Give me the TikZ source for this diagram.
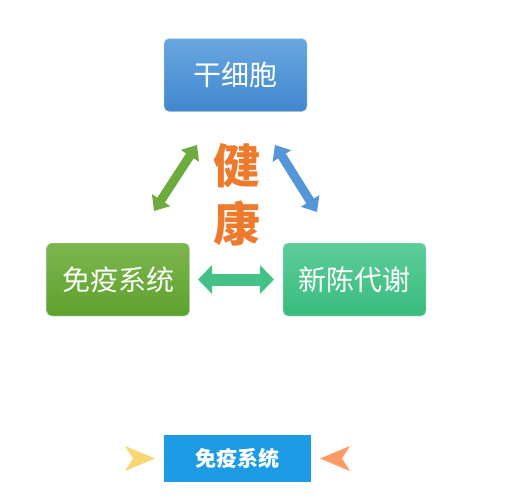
\documentclass[tikz,border=0pt]{standalone}
\usepackage{fontspec}
\newfontfamily\cjk{Noto Sans CJK SC}
\usetikzlibrary{arrows.meta}
\definecolor{blueT}{HTML}{68A6E0}
\definecolor{blueB}{HTML}{4187CF}
\definecolor{greenT}{HTML}{7DB64E}
\definecolor{greenB}{HTML}{5EA12E}
\definecolor{tealT}{HTML}{5CCD99}
\definecolor{tealB}{HTML}{39BC7E}
\definecolor{orangeT}{HTML}{EE7A2E}
\definecolor{boxblue}{HTML}{1E9BE5}
\definecolor{dartY}{HTML}{F6D774}
\definecolor{dartO}{HTML}{FF9966}
\tikzset{
  card/.style={rounded corners=5pt, minimum width=143pt, minimum height=73pt,
    text=white, font=\cjk\fontsize{28}{32}\selectfont, draw=white!85!black, line width=0.4pt},
  dbl/.style={line width=9pt, {Triangle[width=21pt,length=13pt]}-{Triangle[width=21pt,length=13pt]}},
}
\begin{document}
\begin{tikzpicture}[x=1pt,y=-1pt]
\useasboundingbox (0,0) rectangle (508,501);
\fill[white] (0,0) rectangle (508,501);
\node[card, top color=blueT, bottom color=blueB] (stem) at (235.5,75) {干细胞};
\node[card, top color=greenT, bottom color=greenB] (immune) at (118,279.5) {免疫系统};
\node[card, top color=tealT, bottom color=tealB] (meta) at (354.5,279.5) {新陈代谢};
\node[text=orangeT, font=\cjk\bfseries\fontsize{47}{58}\selectfont, align=center] (health) at (237,195) {健\\康};
\coordinate (la) at (197,145);
\coordinate (lb) at (154,211);
\coordinate (ra) at (275,145);
\coordinate (rb) at (317,212);
\coordinate (ha) at (198,279.5);
\coordinate (hb) at (274,279.5);
\draw[dbl, color=greenT!50!greenB] (la) -- (lb);
\draw[dbl, color=blueT!50!blueB] (ra) -- (rb);
\draw[dbl, color=tealT!30!tealB, line width=12pt, {Triangle[width=28pt,length=14pt]}-{Triangle[width=28pt,length=14pt]}] (ha) -- (hb);
\node[fill=boxblue, minimum width=147pt, minimum height=47pt, text=white, font=\cjk\bfseries\fontsize{21}{24}\selectfont] (btn) at (237.5,458.5) {免疫系统};
\fill[dartY] (125,446) -- (155,458.5) -- (125,471) -- (133,458.5) -- cycle;
\fill[dartO] (350,446) -- (320,458.5) -- (350,471) -- (342,458.5) -- cycle;
\end{tikzpicture}
\end{document}
